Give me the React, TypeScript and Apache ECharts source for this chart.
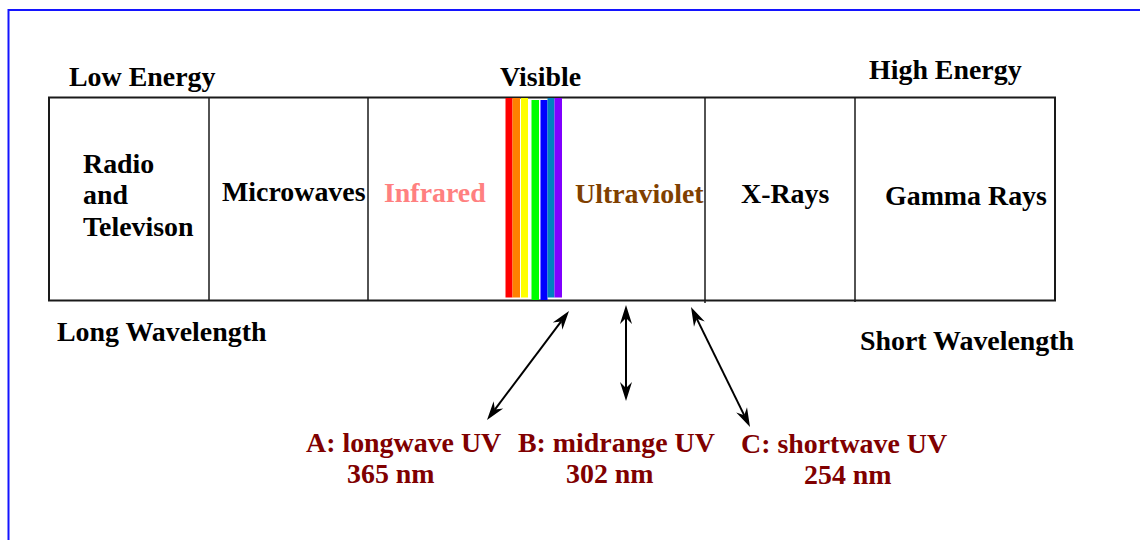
import React, { useEffect, useRef } from "react";
import * as echarts from "echarts";

// ---- Data ----
const regionNames = ["Radio", "Microwaves", "Infrared", "Ultraviolet", "X-Rays", "Gamma Rays"];
const radioExtraLines = ["and", "Televison"];
const regionColors = ["#000000", "#000000", "#ff8080", "#804000", "#000000", "#000000"];
const headerTexts = ["Low Energy", "Visible", "High Energy", "Long Wavelength", "Short Wavelength"];
const visibleColors = ["#ff0000", "#ff8000", "#ffff00", "#00ff00", "#0000ff", "#0080c0", "#8000ff"];
const uvNames = ["A: longwave UV", "B: midrange UV", "C: shortwave UV"];
const uvWavelengths = [365, 302, 254];

// ---- Layout (pixel space of a hidden 1140x540 cartesian grid) ----
const W = 1140;
const H = 540;
const boxEdges = [49, 209, 368, 705, 855, 1055];
const boxTop = 97.5;
const boxBottom = 300.5;
const dividerBottoms = [300.5, 300.5, 303, 302];
const regionLabelPos = [[83, 173], [222, 201], [384, 202], [575, 203], [741, 203], [885, 205]];
const radioExtraY = [204, 236];
const headerPos = [[69, 86], [500, 86], [869, 78.5], [57, 341], [860, 350]];
const bandX = [[505.5, 512.5], [512.5, 520], [521, 528], [531.5, 539], [540.5, 547.5], [547.5, 554.5], [554.5, 562]];
const bandY = [[98, 297.5], [98, 297.5], [98, 297.5], [100, 300], [100, 300], [98, 297.5], [98, 297.5]];
const uvArrows = [[569, 311, 487, 420], [626, 305, 626, 401], [691, 307, 750, 427]];
const uvNamePos = [[306, 452], [518, 452], [741, 453]];
const uvWavePos = [[347, 483], [566, 483], [804, 484]];

const FONT_SIZE = 27.9;
const FONT = `bold ${FONT_SIZE}px "Liberation Serif", "Times New Roman", serif`;
const UV_COLOR = "#800000";

type TextItem = { text: string; x: number; y: number; color: string };
const textItems: TextItem[] = [];
regionNames.forEach((t, i) =>
  textItems.push({ text: t, x: regionLabelPos[i][0], y: regionLabelPos[i][1], color: regionColors[i] })
);
radioExtraLines.forEach((t, i) =>
  textItems.push({ text: t, x: regionLabelPos[0][0], y: radioExtraY[i], color: regionColors[0] })
);
headerTexts.forEach((t, i) => textItems.push({ text: t, x: headerPos[i][0], y: headerPos[i][1], color: "#000000" }));
uvNames.forEach((t, i) => textItems.push({ text: t, x: uvNamePos[i][0], y: uvNamePos[i][1], color: UV_COLOR }));
uvWavelengths.forEach((v, i) =>
  textItems.push({ text: `${v} nm`, x: uvWavePos[i][0], y: uvWavePos[i][1], color: UV_COLOR })
);

function arrowHead(tip: number[], from: number[]) {
  const dx = tip[0] - from[0];
  const dy = tip[1] - from[1];
  const len = Math.sqrt(dx * dx + dy * dy);
  const ux = dx / len;
  const uy = dy / len;
  const nx = -uy;
  const ny = ux;
  const L = 19;
  const w = 6;
  const N = 13;
  return {
    pts: [
      [tip[0], tip[1]],
      [tip[0] - ux * L + nx * w, tip[1] - uy * L + ny * w],
      [tip[0] - ux * N, tip[1] - uy * N],
      [tip[0] - ux * L - nx * w, tip[1] - uy * L - ny * w],
    ],
    notch: [tip[0] - ux * N, tip[1] - uy * N],
  };
}

export default function App() {
  const ref = useRef<HTMLDivElement>(null);
  useEffect(() => {
    if (!ref.current) return;
    const chart = echarts.init(ref.current, undefined, { renderer: "svg" });
    const option: any = {
      animation: false,
      backgroundColor: "#ffffff",
      grid: { left: 0, right: 0, top: 0, bottom: 0 },
      xAxis: { type: "value", min: 0, max: W, show: false },
      yAxis: { type: "value", min: 0, max: H, inverse: true, show: false },
      graphic: [
        {
          type: "polyline",
          shape: { points: [[W, 10], [8.5, 10], [8.5, H]] },
          style: { stroke: "#1414ff", lineWidth: 2, fill: null },
          z: 10,
        },
      ],
      series: [
        {
          type: "custom",
          name: "box",
          data: [[0]],
          silent: true,
          renderItem: (params: any, api: any) => {
            const tl = api.coord([boxEdges[0], boxTop]);
            const br = api.coord([boxEdges[boxEdges.length - 1], boxBottom]);
            const children: any[] = [
              {
                type: "rect",
                shape: { x: tl[0], y: tl[1], width: br[0] - tl[0], height: br[1] - tl[1] },
                style: { stroke: "#1a1a1a", lineWidth: 2, fill: "none" },
              },
            ];
            for (let i = 1; i < boxEdges.length - 1; i++) {
              const a = api.coord([boxEdges[i], boxTop]);
              const b = api.coord([boxEdges[i], dividerBottoms[i - 1]]);
              children.push({
                type: "line",
                shape: { x1: a[0], y1: a[1], x2: b[0], y2: b[1] },
                style: { stroke: "#1a1a1a", lineWidth: 1.5 },
              });
            }
            return { type: "group", children };
          },
        },
        {
          type: "custom",
          name: "visible",
          data: visibleColors.map((_, i) => [i]),
          silent: true,
          renderItem: (params: any, api: any) => {
            const i = params.dataIndex;
            const a = api.coord([bandX[i][0], bandY[i][0]]);
            const b = api.coord([bandX[i][1], bandY[i][1]]);
            return {
              type: "rect",
              shape: { x: a[0], y: a[1], width: b[0] - a[0], height: b[1] - a[1] },
              style: { fill: visibleColors[i] },
            };
          },
        },
        {
          type: "custom",
          name: "arrows",
          data: uvArrows.map((_, i) => [i]),
          silent: true,
          renderItem: (params: any, api: any) => {
            const s = uvArrows[params.dataIndex];
            const p1 = api.coord([s[0], s[1]]);
            const p2 = api.coord([s[2], s[3]]);
            const h1 = arrowHead(p1, p2);
            const h2 = arrowHead(p2, p1);
            return {
              type: "group",
              children: [
                {
                  type: "line",
                  shape: { x1: h1.notch[0], y1: h1.notch[1], x2: h2.notch[0], y2: h2.notch[1] },
                  style: { stroke: "#000000", lineWidth: 2 },
                },
                { type: "polygon", shape: { points: h1.pts }, style: { fill: "#000000" } },
                { type: "polygon", shape: { points: h2.pts }, style: { fill: "#000000" } },
              ],
            };
          },
        },
        {
          type: "custom",
          name: "labels",
          data: textItems.map((_, i) => [i]),
          silent: true,
          renderItem: (params: any, api: any) => {
            const t = textItems[params.dataIndex];
            const p = api.coord([t.x, t.y]);
            return {
              type: "text",
              x: p[0],
              y: p[1] - FONT_SIZE * 0.33,
              style: {
                text: t.text,
                fill: t.color,
                font: FONT,
                align: "left",
                verticalAlign: "middle",
              },
            };
          },
        },
      ],
    };
    chart.setOption(option);
    return () => chart.dispose();
  }, []);
  return (
    <div
      ref={ref}
      style={{ position: "fixed", left: 0, top: 0, width: W, height: H, background: "#fff" }}
    />
  );
}
